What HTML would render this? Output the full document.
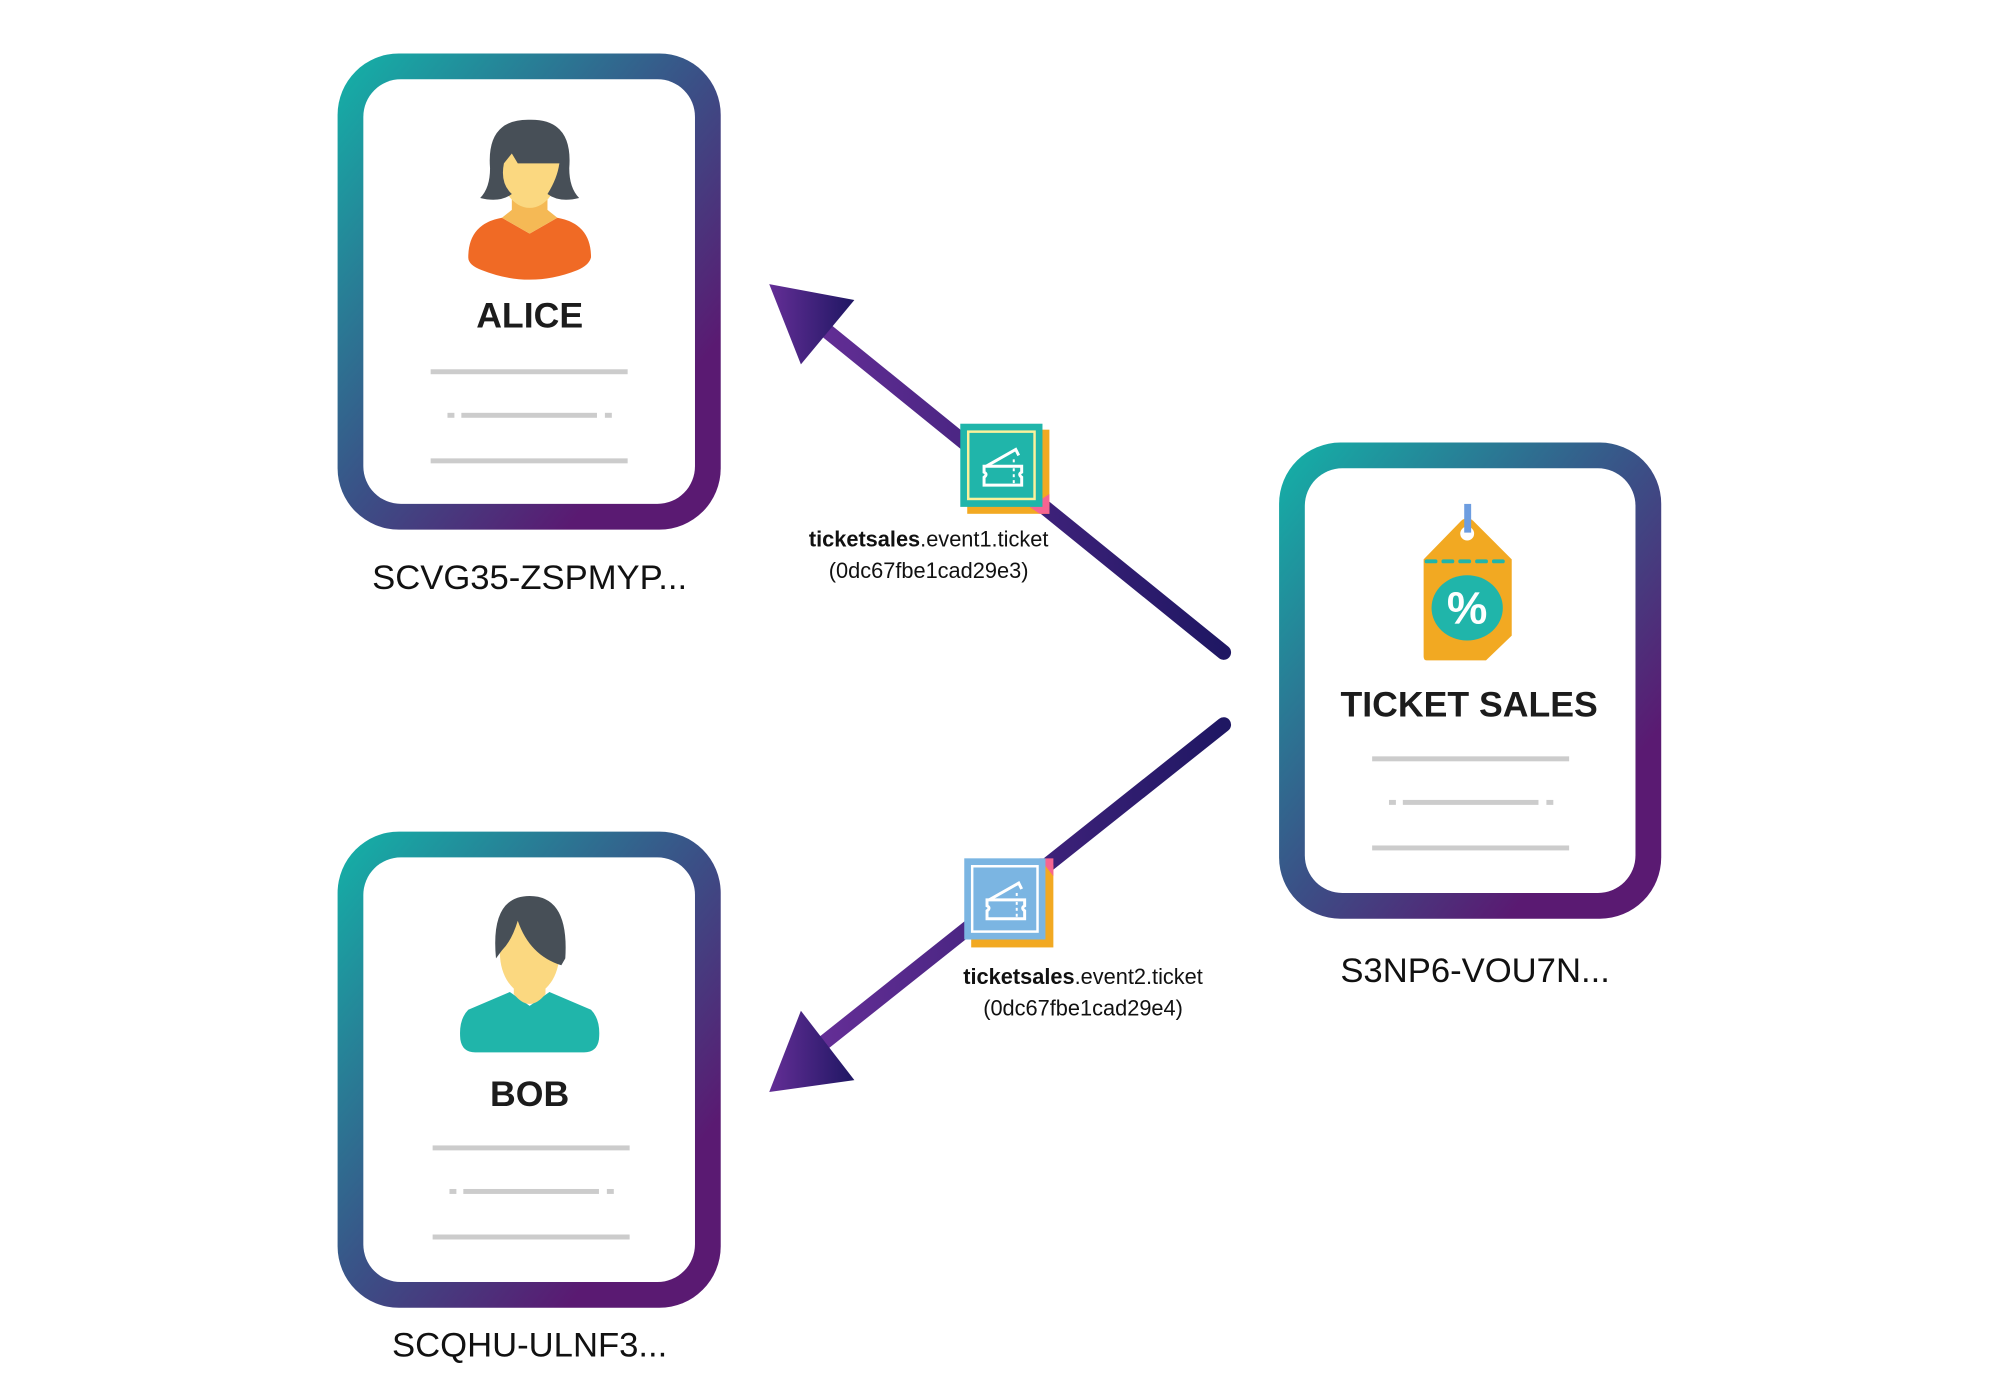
<!DOCTYPE html>
<html><head><meta charset="utf-8"><style>
html,body{margin:0;padding:0;background:#fff;}
svg{display:block;}
text{font-family:"Liberation Sans",sans-serif;}
</style></head><body>
<svg width="2000" height="1400" viewBox="0 0 2000 1400" xmlns="http://www.w3.org/2000/svg">
<defs>
<linearGradient id="cg" x1="0" y1="0" x2="1" y2="1">
<stop offset="0" stop-color="#13b3a8"/><stop offset="0.5" stop-color="#3b4f86"/><stop offset="0.8" stop-color="#5a1a72"/><stop offset="1" stop-color="#5a1a72"/>
</linearGradient>
<linearGradient id="ag" x1="0" y1="0" x2="1" y2="0">
<stop offset="0" stop-color="#642e96"/><stop offset="1" stop-color="#1f1763"/>
</linearGradient>
<g id="lines">
<rect x="0" y="0" width="199" height="5" fill="#cccccc"/>
<rect x="17" y="44" width="7" height="5" fill="#cccccc"/>
<rect x="31" y="44" width="137" height="5" fill="#cccccc"/>
<rect x="176" y="44" width="7" height="5" fill="#cccccc"/>
<rect x="0" y="90" width="199" height="5" fill="#cccccc"/>
</g>
<g id="ticket">
<g fill="none" stroke="#fff" stroke-width="3">
<path d="M-19 -3 L19 -3 L19 3 Q15 5 19 8 L19 16 L-19 16 L-19 8 Q-15 5 -19 3 Z"/>
<path d="M-17 -3 L13 -20 L16 -14"/>
</g>
<g fill="#fff"><rect x="10" y="-1" width="2" height="3"/><rect x="10" y="5" width="2" height="3"/><rect x="10" y="11" width="2" height="3"/><rect x="10" y="-10" width="2" height="3"/></g>
</g>
</defs>
<g transform="scale(0.99)">
<!-- Arrows -->
<line x1="1236" y1="659" x2="820" y2="322" stroke="url(#ag)" stroke-width="15" stroke-linecap="round"/>
<polygon points="777,287 863,303 809,368" fill="url(#ag)"/>
<line x1="1236" y1="732" x2="830" y2="1055" stroke="url(#ag)" stroke-width="15" stroke-linecap="round"/>
<polygon points="777,1103 809,1021 863,1091" fill="url(#ag)"/>

<!-- Icon 1 -->
<rect x="977" y="434" width="83" height="85" fill="#f2a922"/>
<polygon points="1040,512 1060,499 1060,519 1050,519" fill="#f76591"/>
<rect x="970" y="428" width="83" height="84" fill="#20b5aa"/>
<rect x="978" y="436" width="67" height="68" fill="none" stroke="#fbf19b" stroke-width="2.5"/>
<use href="#ticket" x="1013" y="474"/>

<!-- Icon 2 -->
<rect x="981" y="874" width="83" height="83" fill="#f2a922"/>
<polygon points="1050,867 1064,867 1064,885" fill="#f76591"/>
<rect x="974" y="867" width="82" height="82" fill="#7bb5e2"/>
<rect x="982" y="875" width="66" height="66" fill="none" stroke="#fff" stroke-width="2.5"/>
<use href="#ticket" x="1016" y="912"/>

<!-- Labels for arrows -->
<text x="938" y="552" font-size="22" text-anchor="middle" fill="#111"><tspan font-weight="bold">ticketsales</tspan>.event1.ticket</text>
<text x="938" y="584" font-size="22" text-anchor="middle" fill="#111">(0dc67fbe1cad29e3)</text>
<text x="1094" y="994" font-size="22" text-anchor="middle" fill="#111"><tspan font-weight="bold">ticketsales</tspan>.event2.ticket</text>
<text x="1094" y="1026" font-size="22" text-anchor="middle" fill="#111">(0dc67fbe1cad29e4)</text>

<!-- Alice card -->
<rect x="341" y="54" width="387" height="481" rx="62" fill="url(#cg)"/>
<rect x="367" y="80" width="335" height="429" rx="38" fill="#fff"/>
<g transform="translate(535,0)">
<path d="M-62 260 Q-62 226 -28 220 L0 236 L28 220 Q62 226 62 260 Q60 268 48 273 Q0 292 -48 273 Q-62 268 -62 260 Z" fill="#f06a25"/>
<path d="M-18 200 L-18 212 L-28 220 L0 236 L28 220 L18 212 L18 200 Z" fill="#f5b955"/>
<ellipse cx="0" cy="168" rx="30" ry="42" fill="#fbd880"/>
<path d="M-50 200 Q-40 190 -40 170 Q-44 120 0 121 Q44 120 40 170 Q40 190 50 200 Q30 205 18 196 Q28 180 30 165 L-12 165 L-18 155 L-26 165 Q-30 185 -18 196 Q-30 205 -50 200 Z" fill="#474f57"/>
</g>
<text x="535" y="331" font-size="36" font-weight="bold" text-anchor="middle" fill="#1c1c1c">ALICE</text>
<use href="#lines" x="435" y="373"/>
<text x="535" y="595" font-size="35" text-anchor="middle" fill="#111">SCVG35-ZSPMYP...</text>

<!-- Bob card -->
<rect x="341" y="840" width="387" height="481" rx="62" fill="url(#cg)"/>
<rect x="367" y="866" width="335" height="429" rx="38" fill="#fff"/>
<g transform="translate(535,0)">
<path d="M-70 1050 Q-72 1030 -62 1020 L-20 1002 L0 1016 L20 1002 L62 1020 Q72 1030 70 1050 Q68 1063 55 1063 L-55 1063 Q-68 1063 -70 1050 Z" fill="#20b5aa"/>
<path d="M-16 990 L-16 1004 Q0 1024 16 1004 L16 990 Z" fill="#fbd880"/>
<ellipse cx="0" cy="963" rx="30" ry="42" fill="#fbd880"/>
<path d="M-34 968 Q-40 905 0 905 Q40 905 36 968 L32 975 Q0 965 -12 930 Q-18 950 -28 960 Z" fill="#474f57"/>
</g>
<text x="535" y="1117" font-size="36" font-weight="bold" text-anchor="middle" fill="#1c1c1c">BOB</text>
<use href="#lines" x="437" y="1157"/>
<text x="535" y="1370" font-size="35" text-anchor="middle" fill="#111">SCQHU-ULNF3...</text>

<!-- Ticket sales card -->
<rect x="1292" y="447" width="386" height="481" rx="62" fill="url(#cg)"/>
<rect x="1318" y="473" width="334" height="429" rx="38" fill="#fff"/>
<path d="M1438 565 L1476 526 Q1482 521 1488 526 L1527 565 L1527 642 L1501 667 L1441 667 Q1438 667 1438 663 Z" fill="#f2a922"/>
<circle cx="1482" cy="539" r="7" fill="#fff"/>
<rect x="1479" y="509" width="7" height="29" fill="#6d9de0"/>
<line x1="1441" y1="567" x2="1525" y2="567" stroke="#20b5aa" stroke-width="4" stroke-dasharray="9,8" stroke-linecap="round"/>
<ellipse cx="1482" cy="614" rx="36" ry="33" fill="#20b5aa"/>
<text x="1482" y="630" font-size="46" font-weight="bold" text-anchor="middle" fill="#fff">%</text>
<text x="1484" y="724" font-size="36" font-weight="bold" text-anchor="middle" fill="#1c1c1c">TICKET SALES</text>
<use href="#lines" x="1386" y="764"/>
<text x="1490" y="992" font-size="35" text-anchor="middle" fill="#111">S3NP6-VOU7N...</text>
</g>
</svg>
</body></html>
